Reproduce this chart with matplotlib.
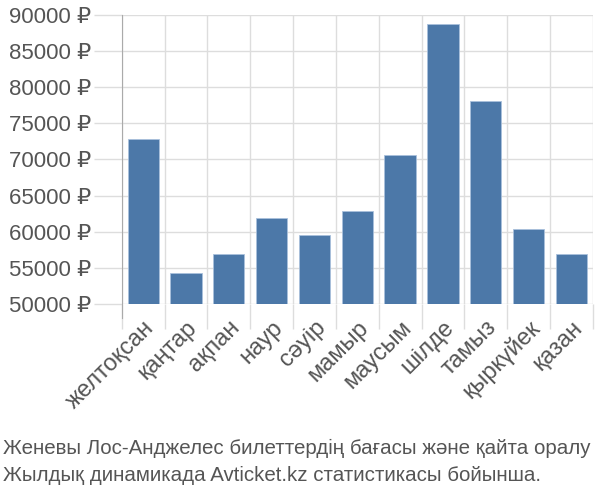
import matplotlib
matplotlib.use("Agg")
import matplotlib.pyplot as plt
import numpy as np

plt.rcParams['font.family'] = ['Liberation Sans', 'DejaVu Sans']

months = ["желтоқсан", "қаңтар", "ақпан", "наур", "сәуір", "мамыр",
          "маусым", "шілде", "тамыз", "қыркүйек", "қазан"]
prices = [72800, 54300, 56900, 61900, 59600, 62900,
          70600, 88800, 78100, 60400, 56900]
y_ticks = [50000, 55000, 60000, 65000, 70000, 75000, 80000, 85000, 90000]
caption = ("Женевы Лос-Анджелес билеттердің бағасы және қайта оралу\n"
           "Жылдық динамикада Avticket.kz статистикасы бойынша.")

fig = plt.figure(figsize=(6, 5), dpi=100)
ax = fig.add_axes([0.203, 0.392, 0.785, 0.578])

x = np.arange(len(months))
base = y_ticks[0]
ax.bar(x, np.array(prices) - base, bottom=base, width=0.73,
       color="#4c78a8", edgecolor="#a9c0dc", linewidth=0.6, zorder=3)

ax.set_xlim(-0.5, len(months) - 0.5)
ax.set_ylim(y_ticks[0], y_ticks[-1])

# gridlines at category boundaries, labels at centres
ax.set_xticks(np.arange(len(months) + 1) - 0.5)
ax.set_xticklabels([])
ax.set_xticks(x, minor=True)
ax.set_xticklabels(months, minor=True, rotation=45, ha="right",
                   rotation_mode="anchor", fontsize=17, color="#555555")
ax.tick_params(axis="x", which="major", length=18, color="#dddddd", width=1)
ax.tick_params(axis="x", which="minor", length=0, pad=9)

ax.set_yticks(y_ticks)
ax.set_yticklabels([f"{v} ₽" for v in y_ticks], fontsize=16, color="#555555")
ax.tick_params(axis="y", length=20, color="#dddddd", width=1, pad=2)

ax.grid(True, which="major", color="#dddddd", linewidth=1, zorder=0)
for s in ["top", "right", "bottom"]:
    ax.spines[s].set_visible(False)
ax.spines["left"].set_color("#aaaaaa")
ax.spines["left"].set_bounds(y_ticks[0] - 2000, y_ticks[-1])
ax.spines["left"].set_zorder(4)

fig.text(0.005, 0.076, caption, fontsize=14.8, color="#555555",
         ha="left", va="center", linespacing=1.52)

fig.savefig("out.png", dpi=100)
